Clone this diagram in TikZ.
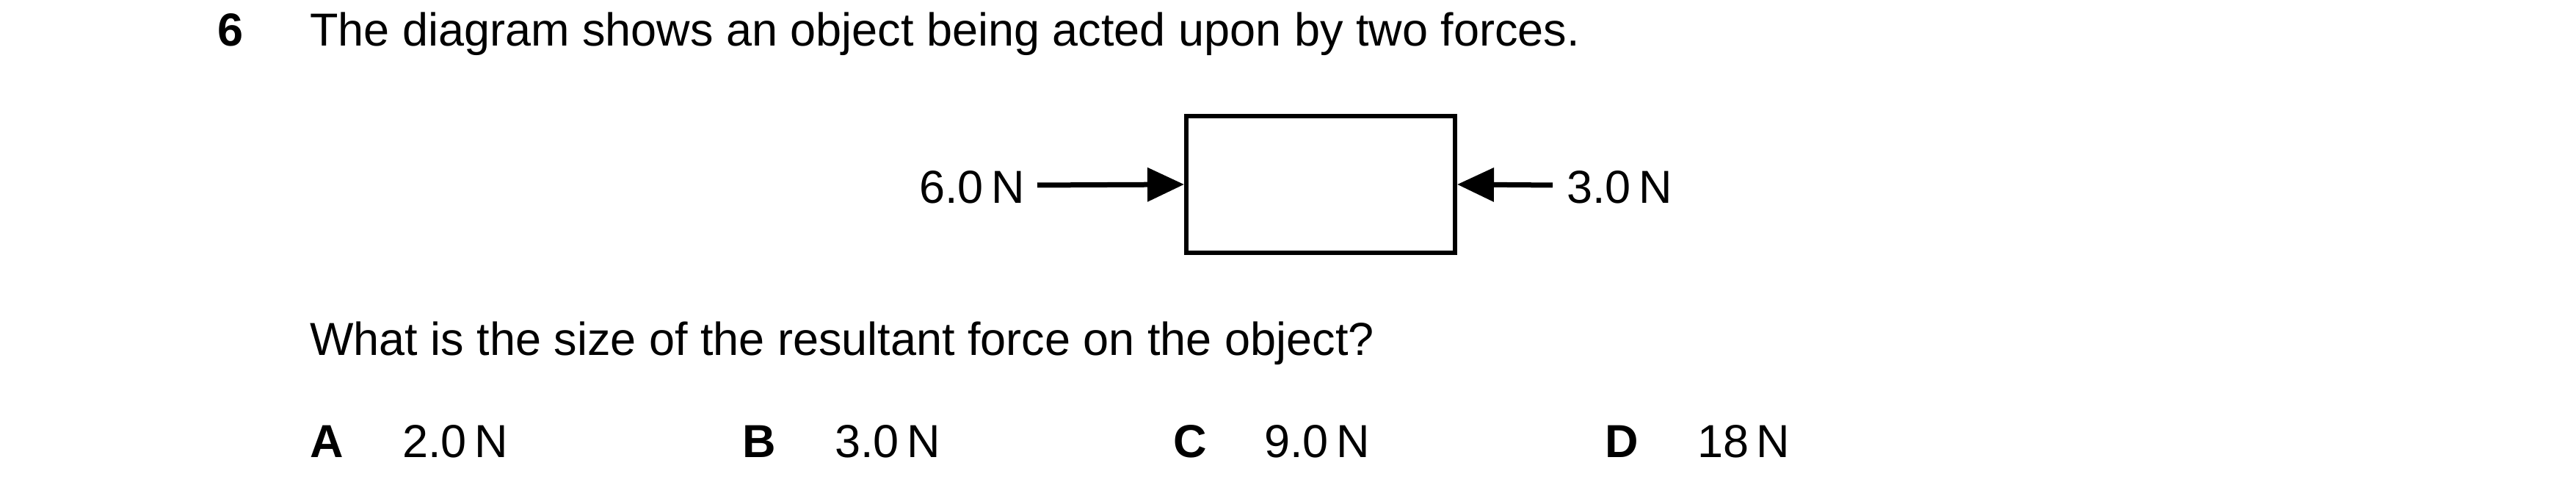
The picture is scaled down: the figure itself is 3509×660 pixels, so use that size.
\documentclass[tikz,border=0pt]{standalone}
\usepackage{fontspec}
\setmainfont{Liberation Sans}
\usetikzlibrary{arrows.meta}
\begin{document}
\begin{tikzpicture}[x=0.2pt,y=-0.2pt,
  txt/.style={anchor=base west,inner sep=0pt,font=\fontsize{12.6pt}{15pt}\selectfont},
  bold/.style={txt,font=\fontsize{12.6pt}{15pt}\selectfont\bfseries},
  force/.style={line width=1.4pt,-{Triangle[length=10pt,width=9pt]}}]
\useasboundingbox (0,0) rectangle (3509,660);
\node[bold] (q) at (295,63) {6};
\node[txt] (t1) at (421,63) {The diagram shows an object being acted upon by two forces.};
\node[draw,line width=1.2pt,minimum width=73.2pt,minimum height=37.2pt,inner sep=0pt] (box) at (1799,251) {};
\node[txt,anchor=base east] (l) at (1397,277) {6.0\,N};
\node[txt] (r) at (2133,277) {3.0\,N};
\coordinate (ls) at (1413,252);
\coordinate (rs) at (2115,252);
\draw[force] (ls) -- (box.west);
\draw[force] (rs) -- (box.east);
\node[txt] (t2) at (421,484) {What is the size of the resultant force on the object?};
\node[bold] (a) at (421,623) {A};
\node[txt] (av) at (547,623) {2.0\,N};
\node[bold] (b) at (1010,623) {B};
\node[txt] (bv) at (1136,623) {3.0\,N};
\node[bold] (c) at (1597,623) {C};
\node[txt] (cv) at (1721,623) {9.0\,N};
\node[bold] (d) at (2185,623) {D};
\node[txt] (dv) at (2311,623) {18\,N};
\end{tikzpicture}
\end{document}
